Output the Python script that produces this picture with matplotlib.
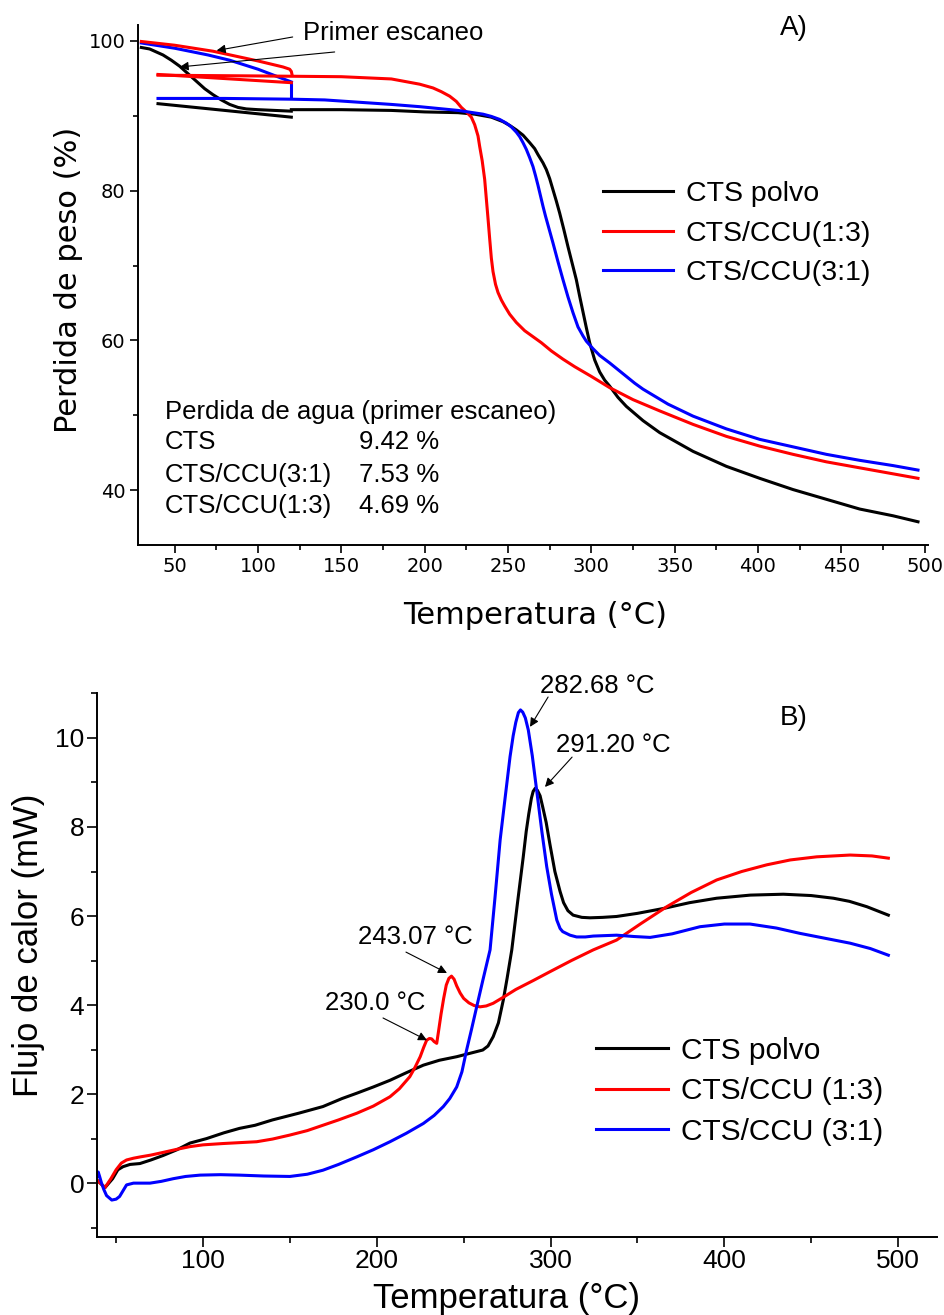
import numpy as np
import matplotlib.pyplot as plt
from matplotlib.ticker import MultipleLocator

# ---------------- Panel A: TGA ----------------
# first scan (heating to 120 C), then cooling line, then main heating run
cts_scan_T = [30, 35, 39, 43, 48, 53, 58, 63, 68, 73, 78, 83, 88, 93, 100, 110, 120]
cts_scan_W = [99.1, 98.9, 98.5, 98.1, 97.4, 96.6, 95.6, 94.6, 93.6, 92.8, 92.1, 91.5, 91.1, 90.9, 90.8, 90.7, 90.6]
cts_cool_T = [40, 120]
cts_cool_W = [91.6, 89.8]
cts_T = [120, 150, 180, 200, 220, 230, 240, 247, 251, 255, 259, 263, 266, 268, 271, 273, 275, 277, 279,
         281, 283.5, 286, 288.5, 291, 293, 295, 297, 299, 302, 305, 308, 311, 316, 321, 331, 341,
         361, 381, 401, 421, 441, 461, 481, 496]
cts_W = [90.8, 90.8, 90.7, 90.5, 90.4, 90.2, 89.8, 89.2, 88.7, 88.1, 87.4, 86.4, 85.6, 84.8, 83.7, 82.8, 81.6, 80.1, 78.6,
         77.0, 74.8, 72.5, 70.3, 68.1, 65.9, 63.8, 61.7, 59.7, 57.4, 55.8, 54.7, 53.9, 52.4, 51.2, 49.3, 47.7,
         45.2, 43.2, 41.6, 40.1, 38.8, 37.5, 36.6, 35.8]

c13_scan_T = [30, 50, 73, 100, 115, 119, 120, 120.5]
c13_scan_W = [99.9, 99.4, 98.6, 97.3, 96.5, 96.2, 95.9, 95.4]
c13_cool_T = [40, 120]
c13_cool_W = [95.5, 94.4]
c13_T = [40, 100, 150, 180, 197, 205, 210, 215, 219, 222, 225, 228, 230, 232, 233, 234.5, 236, 237, 238,
         239, 240, 241, 242.5, 244, 246, 248, 251, 255, 260, 265, 270, 276, 283, 290, 300, 311, 325, 341,
         361, 381, 401, 421, 441, 461, 481, 496]
c13_W = [95.4, 95.3, 95.2, 94.9, 94.2, 93.7, 93.2, 92.6, 91.9, 91.1, 90.5, 89.8, 88.8, 87.3, 85.9, 84.0, 81.5, 78.9, 76.3,
         73.6, 71.0, 69.2, 67.5, 66.4, 65.4, 64.6, 63.5, 62.4, 61.3, 60.5, 59.7, 58.6, 57.5, 56.5, 55.2, 53.7, 52.1, 50.6,
         48.8, 47.2, 45.9, 44.8, 43.8, 43.0, 42.2, 41.6]

c31_scan_T = [30, 50, 70, 83, 100, 120]
c31_scan_W = [99.7, 99.0, 98.1, 97.4, 96.2, 94.5]
c31_drop_T = [120, 120]
c31_drop_W = [94.5, 92.3]
c31_T = [40, 80, 120, 140, 160, 180, 197, 220, 235, 240, 245, 249, 252, 255, 257, 259, 261, 263, 265,
         266.5, 268, 269.5, 271, 272.5, 274, 277, 280, 283, 286, 289, 292, 295, 297, 301, 305, 311,
         316, 321, 326, 331, 346, 361, 381, 401, 421, 441, 461, 481, 496]
c31_W = [92.3, 92.3, 92.2, 92.1, 91.8, 91.5, 91.2, 90.7, 90.2, 89.9, 89.5, 89.0, 88.5, 87.8, 87.2, 86.4, 85.5, 84.4, 83.2,
         82.0, 80.7, 79.3, 77.9, 76.6, 75.4, 73.0, 70.5, 68.1, 65.8, 63.7, 61.8, 60.6, 59.9, 58.9, 58.0, 57.0,
         56.1, 55.2, 54.3, 53.5, 51.5, 49.9, 48.2, 46.8, 45.8, 44.8, 44.0, 43.3, 42.7]

labels_a = ['CTS polvo', 'CTS/CCU(1:3)', 'CTS/CCU(3:1)']
water_names = ['CTS', 'CTS/CCU(3:1)', 'CTS/CCU(1:3)']
water_vals = ['9.42 %', '7.53 %', '4.69 %']

# ---------------- Panel B: DSC ----------------
dsc_cts_T = [39.5, 43.6, 48, 51, 54, 58, 63.7, 70, 77, 85, 92.5, 102, 112, 121, 130, 140, 155, 169, 180,
             188.5, 198, 207.6, 217, 226.8, 236, 246, 255, 261, 264, 267, 270, 272.8, 275, 277.7, 281,
             284.3, 286, 287.5, 289, 290, 291.2, 292.5, 294, 295.5, 297.5, 299.7, 302.5, 305.5, 307.5,
             310, 313, 318, 322.7, 330, 338, 350, 365, 380, 395.6, 415, 434, 450, 462.8, 472, 482, 494.4]
dsc_cts_F = [0.05, -0.1, 0.1, 0.3, 0.37, 0.42, 0.44, 0.52, 0.62, 0.75, 0.9, 1.0, 1.13, 1.23, 1.3, 1.42, 1.57, 1.72, 1.9,
             2.02, 2.16, 2.31, 2.48, 2.65, 2.76, 2.84, 2.93, 2.99, 3.08, 3.29, 3.6, 4.11, 4.6, 5.24, 6.3,
             7.33, 7.9, 8.3, 8.65, 8.8, 8.87, 8.82, 8.7, 8.45, 8.1, 7.6, 7.0, 6.55, 6.3,
             6.12, 6.02, 5.97, 5.96, 5.97, 5.99, 6.06, 6.17, 6.3, 6.40, 6.47, 6.49, 6.46, 6.40, 6.33, 6.21, 6.02]

dsc_13_T = [39.5, 43.6, 47, 50, 53, 56, 60, 64, 70, 77, 85, 92.5, 100, 111.7, 130.9, 140, 150, 160, 169,
            178, 188.5, 198, 207.6, 213, 219, 222, 225, 227, 228.7, 230.3, 231.6, 233, 234.5, 235.5, 237,
            238.5, 240, 241.5, 243, 244.5, 246, 248, 250, 253, 256, 259.4, 263, 267, 273, 280, 290, 299.7,
            312, 324.6, 338, 352, 366.9, 381, 395.6, 410, 424.4, 438, 453.2, 472.4, 485, 494.4]
dsc_13_F = [0.05, -0.1, 0.1, 0.3, 0.45, 0.52, 0.56, 0.59, 0.63, 0.69, 0.76, 0.82, 0.86, 0.89, 0.93, 0.99, 1.08, 1.18, 1.30,
            1.42, 1.57, 1.73, 1.94, 2.12, 2.39, 2.6, 2.84, 3.05, 3.21, 3.25, 3.24, 3.18, 3.14, 3.4, 3.8,
            4.15, 4.45, 4.6, 4.65, 4.58, 4.43, 4.27, 4.15, 4.05, 3.99, 3.96, 3.98, 4.04, 4.18, 4.35, 4.55, 4.75,
            5.0, 5.24, 5.46, 5.83, 6.21, 6.53, 6.81, 7.0, 7.15, 7.26, 7.33, 7.37, 7.35, 7.30]

dsc_31_T = [39.3, 39.7, 40.5, 41.6, 43, 44.5, 47.5, 50, 52, 54, 56, 60, 65, 69.5, 76, 82.9, 90, 98.3, 110,
            121, 135, 150, 160, 169, 178, 188.5, 198, 207.6, 217, 226.8, 233, 238.3, 242, 246, 249, 251.7,
            254.5, 257.5, 261, 265.2, 268, 271, 274, 276.7, 278.5, 280, 281.5, 282.7, 284, 285.5, 287.2,
            289.5, 292, 295, 297.8, 300.5, 303.6, 305.5, 307, 311.2, 315, 320, 324.6, 338, 348, 357.3, 370,
            386, 400, 414.8, 430, 443.6, 458, 472.4, 484, 494.4]
dsc_31_F = [0.15, 0.25, 0.15, 0.0, -0.15, -0.28, -0.38, -0.36, -0.3, -0.17, -0.04, 0.0, 0.0, 0.0, 0.04, 0.1, 0.15, 0.18, 0.19,
            0.18, 0.16, 0.15, 0.2, 0.29, 0.42, 0.59, 0.75, 0.93, 1.12, 1.34, 1.52, 1.72, 1.9, 2.16, 2.5, 2.99,
            3.45, 3.96, 4.55, 5.24, 6.4, 7.71, 8.7, 9.58, 10.05, 10.35, 10.57, 10.63, 10.58, 10.45, 10.18,
            9.6, 8.83, 7.9, 7.11, 6.5, 5.91, 5.72, 5.65, 5.57, 5.53, 5.53, 5.55, 5.57, 5.54, 5.52, 5.6,
            5.76, 5.82, 5.82, 5.73, 5.61, 5.5, 5.39, 5.27, 5.12]

labels_b = ['CTS polvo', 'CTS/CCU (1:3)', 'CTS/CCU (3:1)']

BLACK, RED, BLUE = '#000000', '#ff0000', '#0000ff'
LW = 2.2
ARIAL = 'Liberation Sans'
DEJA = 'DejaVu Sans'
arrow = dict(arrowstyle='-|>', color='k', lw=0.8, mutation_scale=13, shrinkA=0, shrinkB=0)

fig = plt.figure(figsize=(9.45, 13.15), dpi=100)

# ---------------- draw panel A ----------------
axA = fig.add_axes([138 / 945, 1 - 545 / 1315, 790 / 945, 520 / 1315])
axA.plot(cts_scan_T, cts_scan_W, color=BLACK, lw=LW)
axA.plot(cts_cool_T, cts_cool_W, color=BLACK, lw=LW)
axA.plot(c31_scan_T, c31_scan_W, color=BLUE, lw=LW)
axA.plot(c31_drop_T, c31_drop_W, color=BLUE, lw=LW)
axA.plot(c13_scan_T, c13_scan_W, color=RED, lw=LW)
axA.plot(c13_cool_T, c13_cool_W, color=RED, lw=LW)
la1, = axA.plot(cts_T, cts_W, color=BLACK, lw=LW)
la2, = axA.plot(c13_T, c13_W, color=RED, lw=LW)
la3, = axA.plot(c31_T, c31_W, color=BLUE, lw=LW)

axA.set_xlim(28, 502)
axA.set_ylim(32.7, 102.1)
axA.xaxis.set_major_locator(MultipleLocator(50))
axA.xaxis.set_minor_locator(MultipleLocator(25))
axA.yaxis.set_major_locator(MultipleLocator(20))
axA.yaxis.set_minor_locator(MultipleLocator(10))
for s in ['top', 'right']:
    axA.spines[s].set_visible(False)
for s in ['left', 'bottom']:
    axA.spines[s].set_linewidth(1.4)
axA.tick_params(which='major', direction='out', length=6, width=1.2, labelsize=14, pad=3)
axA.tick_params(which='minor', direction='out', length=3.5, width=1.2)
for t in axA.get_xticklabels() + axA.get_yticklabels():
    t.set_fontfamily(DEJA)
axA.set_xlabel('Temperatura (°C)', fontsize=22, fontfamily=DEJA, va='top')
axA.xaxis.set_label_coords(0.5025, -0.108)
axA.set_ylabel('Perdida de peso (%)', fontsize=22, fontfamily=DEJA)
axA.yaxis.set_label_coords(-0.07, 0.51)

axA.legend([la1, la2, la3], labels_a, loc='upper left', bbox_to_anchor=(0.589, 0.70),
           frameon=False, borderaxespad=0, borderpad=0, handlelength=2.45,
           handletextpad=0.45, labelspacing=0.48, prop={'family': ARIAL, 'size': 20.5})

axA.text(126.8, 101.07, 'Primer escaneo', fontsize=18.5, fontfamily=ARIAL, ha='left', va='center')
axA.annotate('', xy=(75.2, 98.7), xytext=(120.8, 100.5), arrowprops=arrow)
axA.annotate('', xy=(53, 96.5), xytext=(146, 98.5), arrowprops=arrow)
axA.text(413, 101.7, 'A)', fontsize=20, fontfamily=ARIAL, ha='left', va='center')

axA.text(44, 50.5, 'Perdida de agua (primer escaneo)', fontsize=18.5, fontfamily=ARIAL, ha='left', va='center')
for i, (n, v) in enumerate(zip(water_names, water_vals)):
    y = [46.4, 42.1, 37.9][i]
    axA.text(44, y, n, fontsize=18.5, fontfamily=ARIAL, ha='left', va='center')
    axA.text(160.4, y, v, fontsize=18.5, fontfamily=ARIAL, ha='left', va='center')

# ---------------- draw panel B ----------------
axB = fig.add_axes([97 / 945, 1 - 1237 / 1315, 840 / 945, 544 / 1315])
lb1, = axB.plot(dsc_cts_T, dsc_cts_F, color=BLACK, lw=LW)
lb2, = axB.plot(dsc_13_T, dsc_13_F, color=RED, lw=LW)
lb3, = axB.plot(dsc_31_T, dsc_31_F, color=BLUE, lw=LW)

axB.set_xlim(39, 522.4)
axB.set_ylim(-1.21, 11.01)
axB.xaxis.set_major_locator(MultipleLocator(100))
axB.xaxis.set_minor_locator(MultipleLocator(50))
axB.yaxis.set_major_locator(MultipleLocator(2))
axB.yaxis.set_minor_locator(MultipleLocator(1))
for s in ['top', 'right']:
    axB.spines[s].set_visible(False)
for s in ['left', 'bottom']:
    axB.spines[s].set_linewidth(1.4)
axB.tick_params(which='major', direction='out', length=7, width=1.2, labelsize=19, pad=2)
axB.tick_params(which='minor', direction='out', length=4, width=1.2)
for t in axB.get_xticklabels() + axB.get_yticklabels():
    t.set_fontfamily(ARIAL)
axB.set_xlabel('Temperatura (°C)', fontsize=25, fontfamily=ARIAL, va='top')
axB.xaxis.set_label_coords(0.487, -0.083)
axB.set_ylabel('Flujo de calor (mW)', fontsize=25, fontfamily=ARIAL)
axB.yaxis.set_label_coords(-0.062, 0.537)

axB.legend([lb1, lb2, lb3], labels_b, loc='upper left', bbox_to_anchor=(0.594, 0.368),
           frameon=False, borderaxespad=0, borderpad=0, handlelength=2.4,
           handletextpad=0.44, labelspacing=0.42, prop={'family': ARIAL, 'size': 21.5})

axB.text(294, 11.17, '282.68 °C', fontsize=18.5, fontfamily=ARIAL, ha='left', va='center')
axB.annotate('', xy=(288.2, 10.25), xytext=(298.6, 10.92), arrowprops=arrow)
axB.text(303.2, 9.84, '291.20 °C', fontsize=18.5, fontfamily=ARIAL, ha='left', va='center')
axB.annotate('', xy=(296.8, 8.90), xytext=(312.4, 9.57), arrowprops=arrow)
axB.text(189.2, 5.53, '243.07 °C', fontsize=18.5, fontfamily=ARIAL, ha='left', va='center')
axB.annotate('', xy=(240.4, 4.72), xytext=(216.8, 5.19), arrowprops=arrow)
axB.text(170.2, 4.04, '230.0 °C', fontsize=18.5, fontfamily=ARIAL, ha='left', va='center')
axB.annotate('', xy=(228.9, 3.21), xytext=(203.6, 3.71), arrowprops=arrow)
axB.text(432, 10.45, 'B)', fontsize=20, fontfamily=ARIAL, ha='left', va='center')

fig.savefig('out.png', dpi=100)
